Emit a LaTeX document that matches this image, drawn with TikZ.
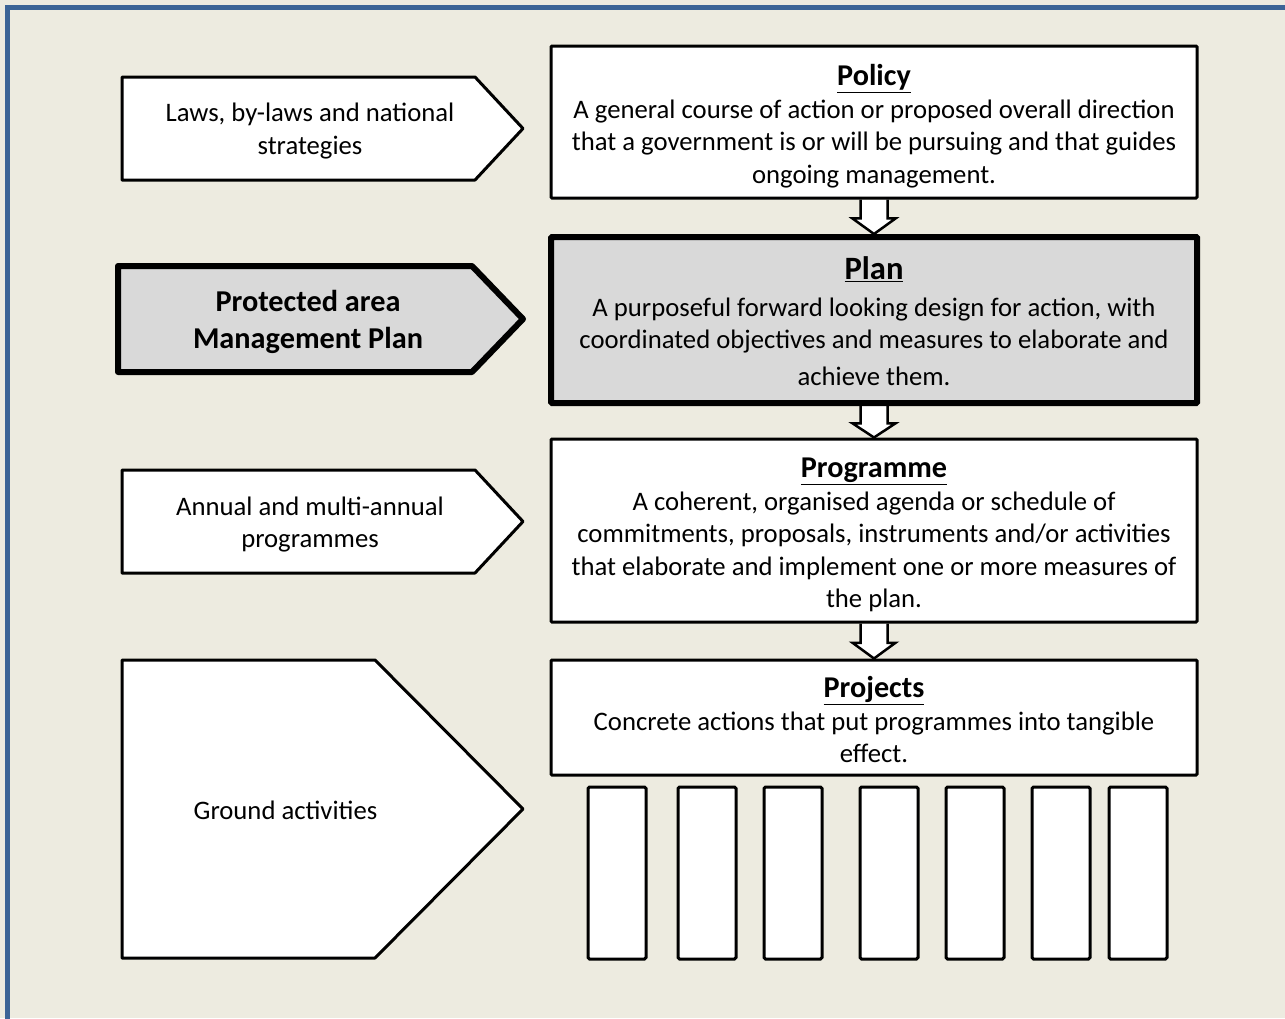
\documentclass[tikz,border=0pt]{standalone}
\usepackage{fontspec}
\setmainfont{Carlito}
\usetikzlibrary{calc,backgrounds}
\definecolor{paper}{HTML}{EDEBE0}
\definecolor{frameblue}{HTML}{3C6496}
\definecolor{plangray}{HTML}{D9D9D9}

% block arrow pointing down from one box to the next
\newcommand\blockdown[2]{%
  \draw[line width=2.5pt, fill=white, line join=miter]
    ($(#1.south)+(-13.5,0)$)
    -- ($(#1.south)!0.55!(#2.north)+(-13.5,0)$)
    -- ($(#1.south)!0.55!(#2.north)+(-21.5,0)$)
    -- (#2.north)
    -- ($(#1.south)!0.55!(#2.north)+(21.5,0)$)
    -- ($(#1.south)!0.55!(#2.north)+(13.5,0)$)
    -- ($(#1.south)+(13.5,0)$);
}

\begin{document}
\begin{tikzpicture}[x=1pt,y=-1pt,
  bodyfont/.style={font=\fontsize{26.7}{32.5}\selectfont},
  box/.style={draw=black, line width=3pt, fill=white, inner sep=0pt,
    rounded corners=1pt, minimum width=646pt},
  bar/.style={draw=black, line width=3pt, fill=white, inner sep=0pt,
    rounded corners=1.5pt, minimum width=58pt, minimum height=172pt},
  sign/.style={draw=black, line width=3pt, fill=white, line join=round},
  lbl/.style={align=center, inner sep=0pt, bodyfont},
]
\useasboundingbox (0,0) rectangle (1285,1018);
\begin{pgfonlayer}{background}
  \fill[paper] (0,0) rectangle (1285,1018);
\end{pgfonlayer}
\draw[frameblue, line width=5pt] (7.5,7.5) rectangle (1300,1035);

% definition boxes
\node[box, minimum height=152pt] (policy) at (874,122) {};
\node[lbl] (policy text) at (874,126)
  {{\fontsize{30.2}{34}\selectfont\bfseries\underline{Policy}}\\
   A general course of action or proposed overall direction\\
   that a government is or will be pursuing and that guides\\
   ongoing management.};

\node[box, line width=6pt, fill=plangray, minimum height=166pt] (plan) at (874,320) {};
\node[lbl] (plan text) at (874,321)
  {{\fontsize{32.6}{37}\selectfont\bfseries\underline{Plan}}\\[4pt]
   A purposeful forward looking design for action, with\\
   coordinated objectives and measures to elaborate and\\[4pt]
   achieve them.};

\node[box, minimum height=183pt] (programme) at (874,530.5) {};
\node[lbl] (programme text) at (874,535)
  {{\fontsize{30.2}{34}\selectfont\bfseries\underline{Programme}}\\
   A coherent, organised agenda or schedule of\\
   commitments, proposals, instruments and/or activities\\
   that elaborate and implement one or more measures of\\
   the plan.};

\node[box, minimum height=115pt] (projects) at (874,717.5) {};
\node[lbl] (projects text) at (874,719.5)
  {{\fontsize{30.2}{34}\selectfont\bfseries\underline{Projects}}\\
   Concrete actions that put programmes into tangible\\
   effect.};

% the individual projects
\foreach \i/\x in {1/617,2/707,3/793,4/889,5/975,6/1061,7/1138}
  \node[bar] (bar\i) at (\x,873) {};

% arrows between the levels
\begin{pgfonlayer}{background}
  \blockdown{policy}{plan}
  \blockdown{plan}{programme}
  \blockdown{programme}{projects}
\end{pgfonlayer}

% pointers on the left
\draw[sign] (122,77) -- (475,77) -- (523,128.5) -- (475,180) -- (122,180) -- cycle;
\node[lbl] (laws) at (310,131) {Laws, by-laws and national\\strategies};

\draw[sign, line width=6pt, fill=plangray]
  (118,266) -- (472,266) -- (523,319) -- (472,372) -- (118,372) -- cycle;
\node[lbl, font=\fontsize{30.3}{37}\selectfont\bfseries] (pamp) at (308,322)
  {Protected area\\Management Plan};

\draw[sign] (122,470) -- (475,470) -- (523,521.5) -- (475,573) -- (122,573) -- cycle;
\node[lbl] (annual) at (310,524.5) {Annual and multi-annual\\programmes};

\draw[sign] (122,660) -- (375,660) -- (523,809) -- (375,958) -- (122,958) -- cycle;
\node[lbl] (ground) at (285.5,810) {Ground activities};
\end{tikzpicture}
\end{document}
